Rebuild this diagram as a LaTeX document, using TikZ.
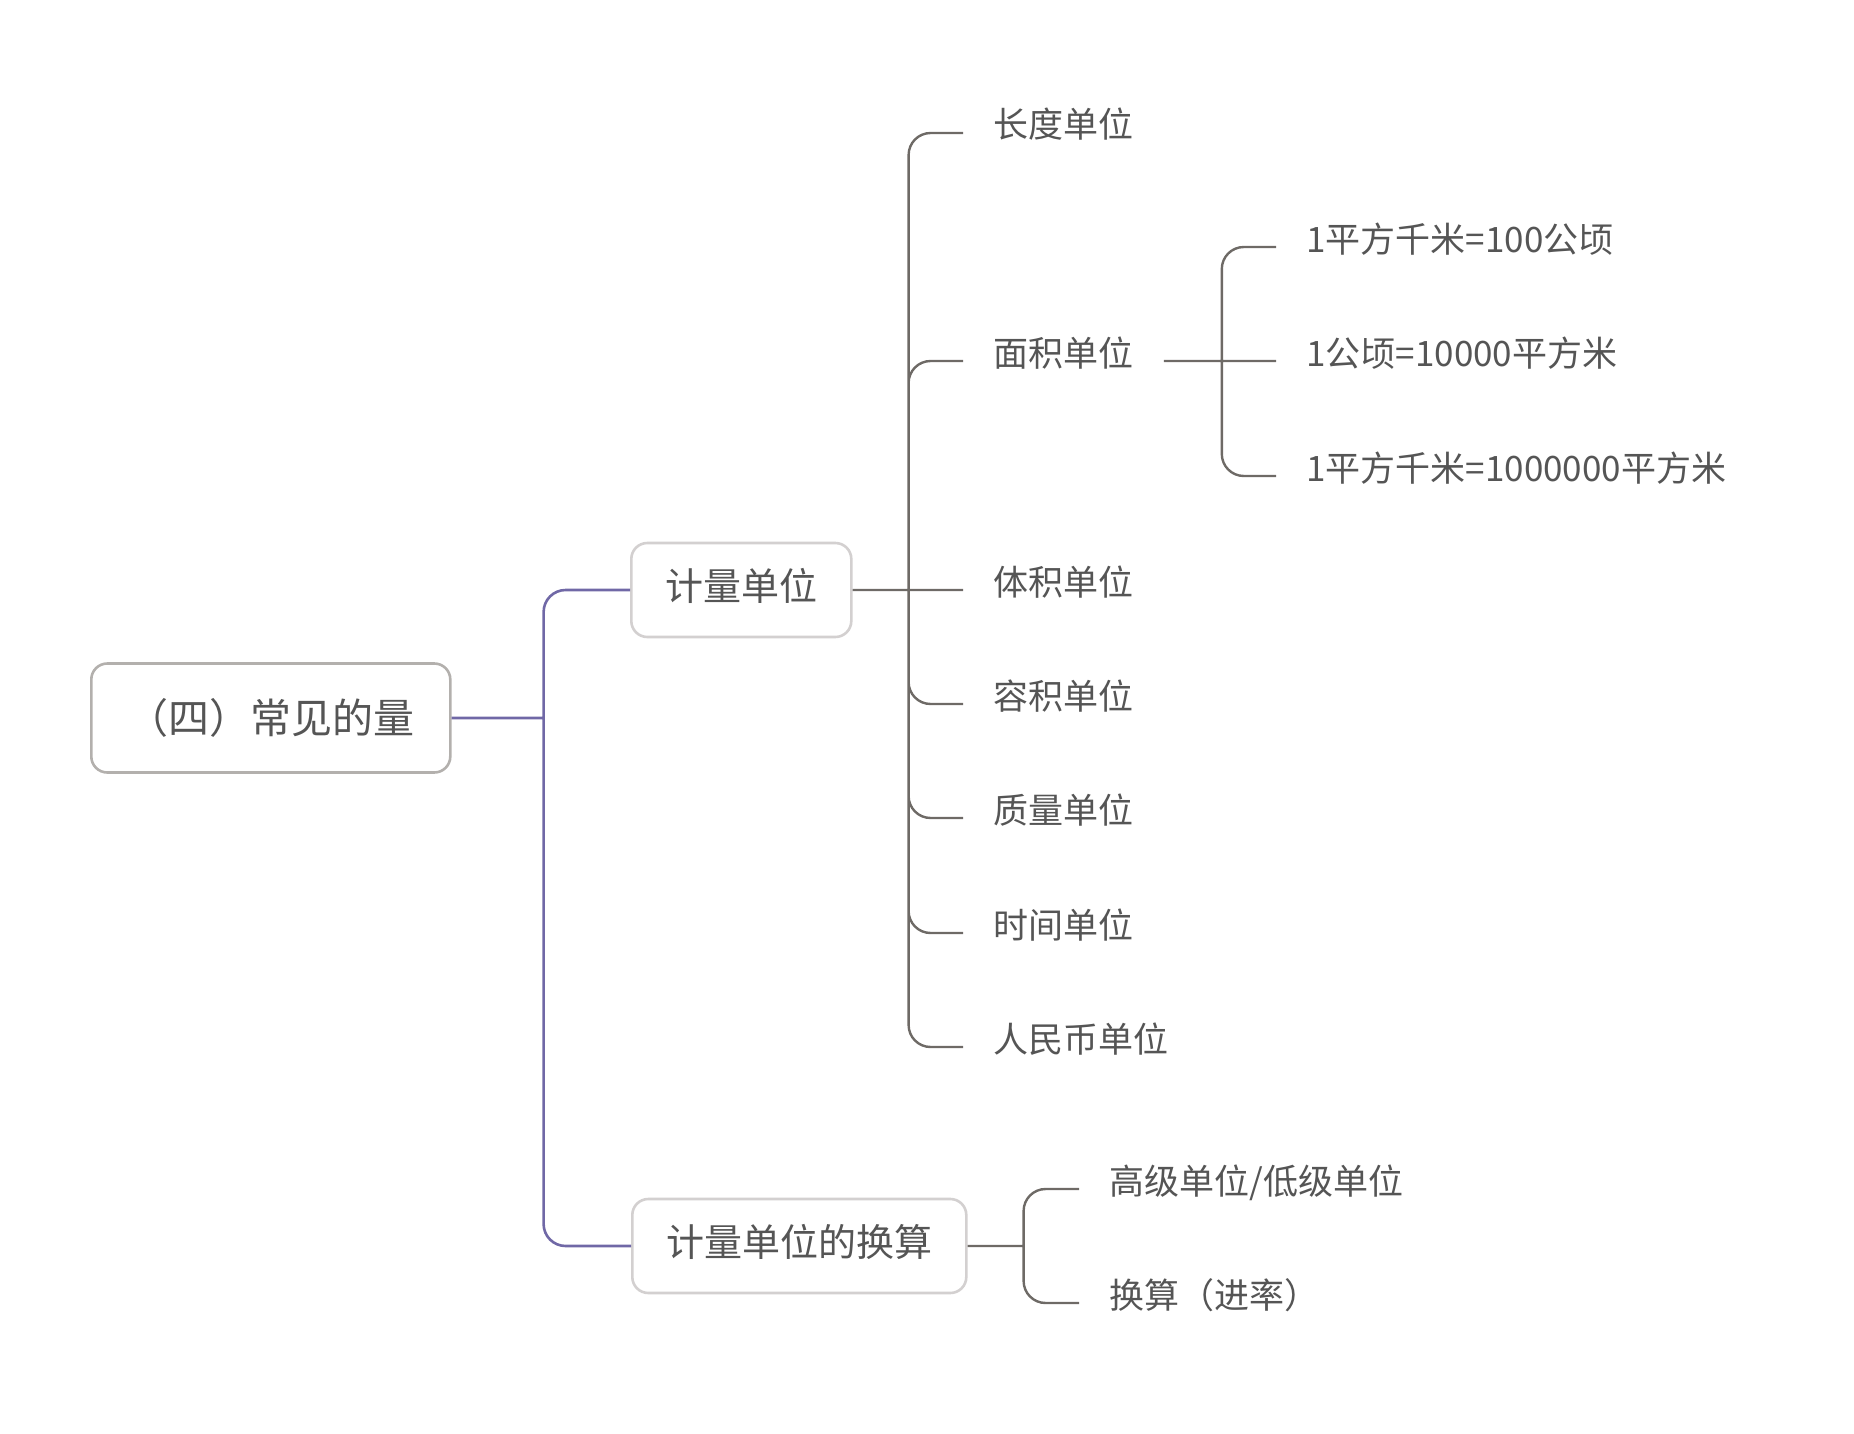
\documentclass[tikz,border=0pt]{standalone}
\usepackage{fontspec}
\newfontfamily\cjk{Noto Sans CJK SC}
\usepackage{tikz}
\definecolor{linegray}{HTML}{6E6A66}
\definecolor{linepurple}{HTML}{7068A6}
\definecolor{txtgray}{HTML}{555555}
\definecolor{rootedge}{HTML}{B3B0AD}
\definecolor{boxedge}{HTML}{D3D0D0}
\tikzset{
    rootnode/.style={draw=rootedge,line width=1.3pt,rounded corners=8pt,anchor=west,font=\cjk\fontsize{20.5}{24}\selectfont,text=txtgray,inner xsep=18pt,minimum height=54.5pt},
    topicnode/.style={draw=boxedge,line width=1.3pt,rounded corners=8pt,anchor=west,font=\cjk\fontsize{19}{23}\selectfont,text=txtgray,inner xsep=17pt,minimum height=47pt,text height=13.5pt,text depth=3.5pt},
    leafnode/.style={anchor=west,font=\cjk\fontsize{17.5}{21}\selectfont,text=txtgray,inner xsep=15pt,inner ysep=0pt,text height=12pt,text depth=7pt},
    purpleline/.style={draw=linepurple,line width=1.3pt,rounded corners=11pt},
    grayline/.style={draw=linegray,line width=1.2pt,rounded corners=11pt}
}
\begin{document}
\begin{tikzpicture}[x=0.5pt,y=-0.5pt]
\useasboundingbox (0,0) rectangle (1854,1434);

\node[rootnode] (ROOT) at (90,718) {（四）常见的量};
\node[topicnode] (UNIT) at (630,590) {计量单位};
\node[topicnode] (CONV) at (631,1246) {计量单位的换算};

\node[leafnode] (LEN) at (963,133) {长度单位};
\node[leafnode] (AREA) at (963,361) {面积单位};
\node[leafnode] (VOL) at (963,590) {体积单位};
\node[leafnode] (CAP) at (963,704) {容积单位};
\node[leafnode] (MASS) at (963,818) {质量单位};
\node[leafnode] (TIME) at (963,933) {时间单位};
\node[leafnode] (RMB) at (963,1047) {人民币单位};

\node[leafnode] (KMHA) at (1276,247) {1平方千米=100公顷};
\node[leafnode] (HAM) at (1276,361) {1公顷=10000平方米};
\node[leafnode] (KMM) at (1276,476) {1平方千米=1000000平方米};

\node[leafnode] (HILO) at (1079,1189) {高级单位/低级单位};
\node[leafnode] (RATE) at (1079,1303) {换算（进率）};

\coordinate (J0) at ([xshift=46pt]ROOT.east);
\coordinate (J1) at ([xshift=28pt]UNIT.east);
\coordinate (J2) at ([xshift=29pt]AREA.east);
\coordinate (J3) at ([xshift=28pt]CONV.east);

\draw[purpleline]
(ROOT.east) -- (J0)
(J0) |- (UNIT.west)
(J0) |- (CONV.west);

\draw[grayline]
(UNIT.east) -- (VOL.west)
(J1) |- (LEN.west)
(J1) |- (AREA.west)
(J1) |- (CAP.west)
(J1) |- (MASS.west)
(J1) |- (TIME.west)
(J1) |- (RMB.west);

\draw[grayline]
(AREA.east) -- (HAM.west)
(J2) |- (KMHA.west)
(J2) |- (KMM.west);

\draw[grayline]
(CONV.east) -- (J3)
(J3) |- (HILO.west)
(J3) |- (RATE.west);

\end{tikzpicture}
\end{document}
